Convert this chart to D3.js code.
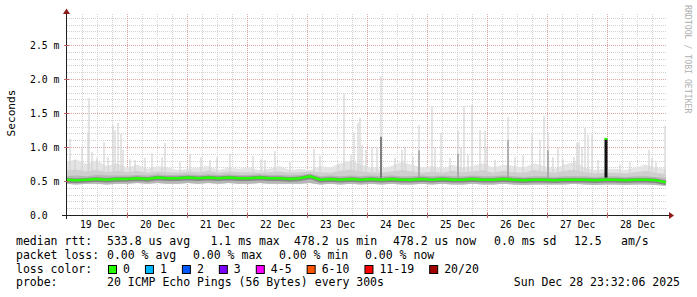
<!DOCTYPE html>
<html>
<head>
<meta charset="utf-8">
<script src="https://cdn.jsdelivr.net/npm/d3@7"></script>
<style>
  body { margin: 0; background: #fff; }
  text { font-family: "DejaVu Sans Mono", monospace; fill: #000; }
</style>
</head>
<body>
<div id="chart"></div>
<script>
const width = 697;
const height = 297;
const hour = 3600e3;
const start = Date.UTC(2025, 11, 18, 23, 32, 6);
const end = start + 240 * hour;

// 4-hour bins, values in ms (10 days x 6)
const median = [
  0.52, 0.51, 0.52, 0.53, 0.52, 0.53,
  0.53, 0.54, 0.53, 0.55, 0.54, 0.54,
  0.55, 0.54, 0.55, 0.54, 0.55, 0.54,
  0.54, 0.55, 0.54, 0.54, 0.53, 0.54,
  0.57, 0.52, 0.53, 0.52, 0.53, 0.52,
  0.53, 0.52, 0.53, 0.52, 0.52, 0.53,
  0.52, 0.53, 0.52, 0.52, 0.53, 0.52,
  0.52, 0.53, 0.52, 0.51, 0.52, 0.52,
  0.51, 0.52, 0.52, 0.52, 0.51, 0.52,
  0.52, 0.51, 0.52, 0.52, 0.51, 0.48
];
const smokeMin = [
  0.46, 0.45, 0.46, 0.46, 0.45, 0.46,
  0.46, 0.47, 0.46, 0.47, 0.46, 0.46,
  0.47, 0.46, 0.47, 0.46, 0.47, 0.46,
  0.46, 0.47, 0.46, 0.46, 0.46, 0.46,
  0.47, 0.45, 0.46, 0.45, 0.46, 0.45,
  0.46, 0.45, 0.46, 0.45, 0.45, 0.46,
  0.45, 0.46, 0.45, 0.45, 0.46, 0.45,
  0.45, 0.46, 0.45, 0.44, 0.45, 0.45,
  0.45, 0.45, 0.46, 0.45, 0.44, 0.45,
  0.45, 0.44, 0.45, 0.45, 0.44, 0.43
];
const smokeMid = [
  0.57, 0.58, 0.57, 0.59, 0.58, 0.58,
  0.58, 0.59, 0.58, 0.60, 0.59, 0.59,
  0.60, 0.59, 0.60, 0.59, 0.60, 0.59,
  0.59, 0.60, 0.59, 0.59, 0.58, 0.59,
  0.61, 0.57, 0.58, 0.57, 0.58, 0.57,
  0.58, 0.57, 0.58, 0.57, 0.57, 0.58,
  0.57, 0.58, 0.57, 0.57, 0.58, 0.57,
  0.57, 0.58, 0.57, 0.56, 0.57, 0.57,
  0.56, 0.57, 0.57, 0.57, 0.56, 0.57,
  0.57, 0.56, 0.57, 0.57, 0.56, 0.54
];
const smokeHigh = [
  0.65, 0.67, 0.64, 0.66, 0.63, 0.65,
  0.63, 0.65, 0.62, 0.64, 0.63, 0.62,
  0.64, 0.63, 0.65, 0.62, 0.64, 0.63,
  0.63, 0.62, 0.63, 0.64, 0.62, 0.63,
  0.64, 0.63, 0.62, 0.65, 0.67, 0.64,
  0.63, 0.62, 0.64, 0.66, 0.64, 0.62,
  0.64, 0.62, 0.65, 0.63, 0.64, 0.66,
  0.62, 0.65, 0.63, 0.62, 0.66, 0.64,
  0.62, 0.65, 0.66, 0.63, 0.61, 0.62,
  0.62, 0.61, 0.63, 0.65, 0.62, 0.60
];
const smokeTop = [
  0.78, 0.82, 0.75, 0.80, 0.72, 0.76,
  0.70, 0.74, 0.68, 0.72, 0.70, 0.66,
  0.68, 0.70, 0.72, 0.66, 0.70, 0.68,
  0.70, 0.66, 0.68, 0.72, 0.66, 0.68,
  0.66, 0.72, 0.70, 0.76, 0.80, 0.74,
  0.70, 0.68, 0.72, 0.78, 0.74, 0.70,
  0.72, 0.68, 0.74, 0.70, 0.72, 0.76,
  0.70, 0.74, 0.72, 0.70, 0.76, 0.72,
  0.68, 0.74, 0.78, 0.70, 0.66, 0.68,
  0.68, 0.66, 0.70, 0.74, 0.70, 0.68
];

// single outlier pings: [hours since start, top ms, darker core ms (0 = none)]
const spikes = [
  [1.6, 1.12, 0], [3.6, 0.81, 0], [6.4, 0.99, 0], [8.8, 1.21, 0], [9.2, 1.72, 0],
  [10.4, 0.93, 0], [12.4, 0.84, 0], [15.2, 1.07, 0], [16.8, 0.85, 0], [18.8, 1.32, 0],
  [19.6, 1.25, 0], [20.8, 1.35, 0], [22.0, 1.19, 0], [22.8, 0.96, 0], [25.6, 0.82, 0],
  [27.6, 0.81, 0], [31.6, 0.84, 0], [34.4, 0.91, 0], [38.4, 0.85, 0], [39.6, 1.06, 0],
  [45.6, 0.78, 0], [49.6, 0.90, 0], [54.0, 0.85, 0], [57.6, 0.81, 0], [60.4, 0.85, 0],
  [65.6, 0.90, 0], [74.8, 0.87, 0], [78.0, 0.82, 0], [79.6, 0.81, 0],
  [83.6, 0.94, 0], [89.6, 0.78, 0], [99.2, 0.97, 0], [101.6, 0.87, 0], [108.8, 0.76, 0],
  [111.2, 1.78, 0], [114.0, 0.88, 0], [115.2, 1.21, 0], [116.8, 1.35, 0], [117.6, 1.43, 0],
  [118.4, 1.03, 0], [120.0, 0.96, 0], [122.4, 1.00, 0], [124.4, 1.00, 0],
  [126.0, 2.04, 1.15], [131.6, 0.84, 0], [134.4, 0.96, 0], [135.6, 1.01, 0],
  [138.8, 0.85, 0], [141.2, 1.32, 0.95], [146.4, 1.60, 0], [147.6, 1.00, 0],
  [150.0, 1.21, 0], [153.6, 0.84, 0], [156.8, 1.24, 0.90], [158.0, 1.00, 0],
  [159.2, 1.60, 0], [160.8, 0.88, 0], [162.4, 1.62, 0], [165.6, 1.25, 0],
  [167.6, 1.24, 0], [168.4, 1.00, 0], [171.6, 0.81, 0], [176.8, 1.44, 1.10],
  [179.6, 0.85, 0], [182.8, 0.88, 0], [186.4, 1.18, 0], [189.6, 1.10, 0],
  [191.2, 1.46, 0], [192.8, 1.22, 0.95], [194.8, 0.85, 0], [196.8, 0.99, 0],
  [198.8, 0.82, 0], [203.2, 0.85, 0], [204.4, 1.06, 0], [205.2, 1.07, 0],
  [206.4, 1.00, 0], [207.6, 1.28, 0], [208.8, 1.18, 0], [210.4, 1.18, 0],
  [212.8, 0.81, 0], [221.6, 0.74, 0], [225.6, 0.78, 0], [233.2, 0.96, 0],
  [234.4, 0.84, 0], [236.0, 0.78, 0], [239.6, 1.31, 0]
];
// burst where all pings were slow: [hours since start, low ms, high ms]
const bursts = [[216.0, 0.55, 1.12]];

const yTicks = [0, 0.5, 1.0, 1.5, 2.0, 2.5];
const yTickLabels = ['0.0', '0.5 m', '1.0 m', '1.5 m', '2.0 m', '2.5 m'];

const rttLegend = ['533.8 us avg', '1.1 ms max', '478.2 us min', '478.2 us now', '0.0 ms sd', '12.5', 'am/s'];
const lossLegend = ['0.00 % avg', '0.00 % max', '0.00 % min', '0.00 % now'];
const lossLabels = ['0', '1', '2', '3', '4-5', '6-10', '11-19', '20/20'];
const lossColors = ['#26ff00', '#00b8ff', '#0059ff', '#7e00ff', '#ff00ff', '#ff5500', '#ff0000', '#a00000'];
const probeText = '20 ICMP Echo Pings (56 Bytes) every 300s';
const stampText = 'Sun Dec 28 23:32:06 2025';

const svg = d3.select('#chart')
  .append('svg')
  .attr('width', width)
  .attr('height', height);

const x = d3.scaleUtc().domain([new Date(start), new Date(end)]).range([66, 666]);
const y = d3.scaleLinear().domain([0, 3]).range([215, 11]);
const binTime = i => new Date(start + i * 240 / (median.length - 1) * hour);
const atHour = h => new Date(start + h * hour);

// grid
const grid = svg.append('g').attr('shape-rendering', 'crispEdges');
const minorY = d3.range(1, 30).map(i => i / 10).filter(v => Math.round(v * 10) % 5 !== 0);
grid.selectAll('.hmin').data(minorY).enter().append('line')
  .attr('x1', 67).attr('x2', 667)
  .attr('y1', d => Math.round(y(d)) + 0.5).attr('y2', d => Math.round(y(d)) + 0.5)
  .attr('stroke', '#d2d2d2').attr('stroke-dasharray', '1,1');
const hours6 = d3.utcHour.every(6).range(new Date(start), new Date(end)).filter(d => d.getUTCHours() !== 0);
grid.selectAll('.vmin').data(hours6).enter().append('line')
  .attr('x1', d => Math.round(x(d)) + 0.5).attr('x2', d => Math.round(x(d)) + 0.5)
  .attr('y1', 14).attr('y2', 215)
  .attr('stroke', '#d2d2d2').attr('stroke-dasharray', '1,1');
grid.selectAll('.hmaj').data(yTicks.slice(1)).enter().append('line')
  .attr('x1', 67).attr('x2', 667)
  .attr('y1', d => Math.round(y(d)) + 0.5).attr('y2', d => Math.round(y(d)) + 0.5)
  .attr('stroke', '#e0a4a4').attr('stroke-dasharray', '1,1');
const days = d3.utcDay.range(new Date(start + hour), new Date(end));
grid.selectAll('.vmaj').data(days).enter().append('line')
  .attr('x1', d => Math.round(x(d)) + 0.5).attr('x2', d => Math.round(x(d)) + 0.5)
  .attr('y1', 14).attr('y2', 215)
  .attr('stroke', '#e0a4a4').attr('stroke-dasharray', '1,1');

// smoke
const band = (lo, hi) => d3.area()
  .x((d, i) => x(binTime(i)))
  .y0((d, i) => y(lo[i]))
  .y1((d, i) => y(hi[i]));

svg.append('path').datum(median).attr('d', band(smokeMin, smokeTop)).attr('fill', '#e4e4e4');

svg.selectAll('.spike').data(spikes).enter().append('rect')
  .attr('x', d => x(atHour(d[0])) - 0.6)
  .attr('width', 1.2)
  .attr('y', d => y(d[1]))
  .attr('height', d => y(0.6) - y(d[1]))
  .attr('fill', '#d2d2d2');

svg.append('path').datum(median).attr('d', band(smokeMin, smokeHigh)).attr('fill', '#cfcfcf');
svg.append('path').datum(median).attr('d', band(smokeMin, smokeMid)).attr('fill', '#b6b6b6');

svg.selectAll('.core').data(spikes.filter(d => d[2] > 0)).enter().append('rect')
  .attr('x', d => x(atHour(d[0])) - 0.7)
  .attr('width', 1.4)
  .attr('y', d => y(d[2]))
  .attr('height', d => y(0.55) - y(d[2]))
  .attr('fill', d => d[1] > 1.9 ? '#555' : '#9a9a9a');

const medLine = d3.line()
  .x((d, i) => x(binTime(i)))
  .y(d => y(d));

svg.append('path').datum(median).attr('d', medLine)
  .attr('fill', 'none').attr('stroke', '#858585').attr('stroke-width', 4.5)
  .attr('transform', 'translate(0,0.5)');

svg.selectAll('.burst').data(bursts).enter().append('rect')
  .attr('x', d => x(atHour(d[0])) - 1.5)
  .attr('width', 3)
  .attr('y', d => y(d[2]))
  .attr('height', d => y(d[1]) - y(d[2]))
  .attr('fill', '#111');

svg.append('path').datum(median).attr('d', medLine)
  .attr('fill', 'none').attr('stroke', '#26ff00').attr('stroke-width', 2.5);

svg.selectAll('.burstTop').data(bursts).enter().append('rect')
  .attr('x', d => x(atHour(d[0])) - 1.5)
  .attr('width', 3)
  .attr('y', d => y(d[2]) - 1)
  .attr('height', 2)
  .attr('fill', '#26ff00');

// axes lines and arrows
const ax = svg.append('g').attr('shape-rendering', 'crispEdges');
ax.append('line').attr('x1', 62).attr('x2', 671).attr('y1', 215.5).attr('y2', 215.5).attr('stroke', '#202020');
ax.append('line').attr('x1', 66.5).attr('x2', 66.5).attr('y1', 219).attr('y2', 12).attr('stroke', '#202020');
ax.selectAll('.ty').data(yTicks.slice(1)).enter().append('line')
  .attr('x1', 64).attr('x2', 69)
  .attr('y1', d => Math.round(y(d)) + 0.5).attr('y2', d => Math.round(y(d)) + 0.5)
  .attr('stroke', '#c06060');
ax.selectAll('.tx').data(days).enter().append('line')
  .attr('x1', d => Math.round(x(d)) + 0.5).attr('x2', d => Math.round(x(d)) + 0.5)
  .attr('y1', 213).attr('y2', 218)
  .attr('stroke', '#c06060');
svg.append('path').attr('d', 'M669,212 L674,215.5 L669,219 Z').attr('fill', '#8b1a1a');
svg.append('path').attr('d', 'M63,14 L66.5,8.5 L70,14 Z').attr('fill', '#8b1a1a');

// axis labels via d3 axes
const noons = d3.utcDay.range(new Date(start), new Date(end)).map(d => d3.utcHour.offset(d, 12));
const xAxis = svg.append('g')
  .attr('transform', 'translate(0,215)')
  .call(d3.axisBottom(x).tickValues(noons).tickFormat(d3.utcFormat('%d %b')).tickSize(0).tickPadding(6));
xAxis.select('.domain').remove();
xAxis.selectAll('text').style('font-family', '"DejaVu Sans Mono", monospace').style('font-size', '9.8px').attr('fill', '#000');

const yAxis = svg.append('g')
  .attr('transform', 'translate(30,0)')
  .call(d3.axisLeft(y).tickValues(yTicks).tickFormat((d, i) => yTickLabels[i]).tickSize(0));
yAxis.select('.domain').remove();
yAxis.selectAll('text').attr('x', 0).attr('text-anchor', 'start')
  .style('font-family', '"DejaVu Sans Mono", monospace').style('font-size', '9.8px').attr('fill', '#000');

svg.append('text')
  .attr('transform', 'translate(14.5,113) rotate(-90)')
  .attr('text-anchor', 'middle')
  .style('font-size', '11.2px')
  .text('Seconds');

svg.append('text')
  .attr('transform', 'translate(685,5) rotate(90)')
  .style('font-size', '8.2px')
  .style('fill', '#b0b0b0')
  .text('RRDTOOL / TOBI OETIKER');

// legend
const lfs = '11.5px';
const charW = 6.95;
const rows = [245, 258.8, 272.6, 286.4];
const rttX = [107, 210.5, 294, 393, 494, 574, 621];
const lossX = [107, 193, 279, 365];
const leg = svg.append('g').style('font-size', lfs);

leg.append('text').attr('x', 16).attr('y', rows[0]).text('median rtt:');
leg.selectAll('.rtt').data(rttLegend).enter().append('text')
  .attr('x', (d, i) => rttX[i]).attr('y', rows[0]).text(d => d);

leg.append('text').attr('x', 16).attr('y', rows[1]).text('packet loss:');
leg.selectAll('.loss').data(lossLegend).enter().append('text')
  .attr('x', (d, i) => lossX[i]).attr('y', rows[1]).text(d => d);

leg.append('text').attr('x', 16).attr('y', rows[2]).text('loss color:');
let bx = 108.5;
lossLabels.forEach((lab, i) => {
  leg.append('rect')
    .attr('x', bx).attr('y', 265.5).attr('width', 8).attr('height', 8)
    .attr('fill', lossColors[i]).attr('stroke', '#000').attr('stroke-width', 1);
  leg.append('text').attr('x', bx + 14.5).attr('y', rows[2]).text(lab);
  bx += 14.5 + lab.length * charW + 15.5;
});

leg.append('text').attr('x', 16).attr('y', rows[3]).text('probe:');
leg.append('text').attr('x', 107).attr('y', rows[3]).text(probeText);
leg.append('text').attr('x', 680).attr('y', rows[3]).attr('text-anchor', 'end').text(stampText);
</script>
</body>
</html>
